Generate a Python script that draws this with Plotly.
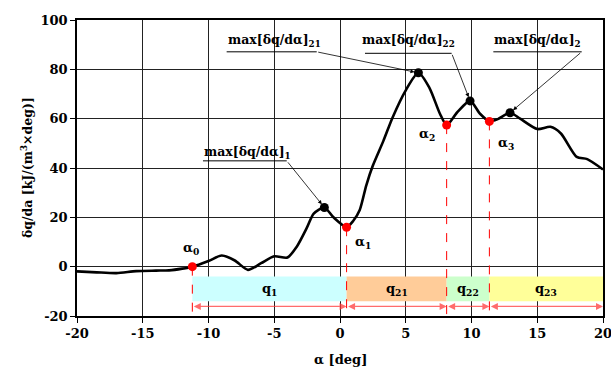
import plotly.graph_objects as go

# Heat release rate curve dq/dα versus crank angle α
alpha = [-20, -18.5, -17, -15.5, -14, -13, -12, -11.23, -10, -9, -8, -7, -6, -5, -4,
         -3.3, -2.5, -2, -1.19, -0.5, 0.5, 1.0, 1.5, 2.0, 2.5, 3.3, 4.0, 5.0, 5.96,
         6.8, 7.6, 8.11, 8.9, 9.89, 10.65, 11.36, 12.0, 12.93, 13.7, 15.0, 16.0,
         16.8, 18.0, 18.8, 20]
dq = [-1.9, -2.3, -2.6, -1.8, -1.6, -1.5, -0.8, 0, 2.3, 4.5, 2.5, -1.3, 1.4, 4.2, 3.7,
      8, 16, 21.5, 24, 20, 16, 18.5, 23, 33, 41, 51, 60.5, 71.5, 78.6,
      72.5, 62, 57.4, 62.5, 67.2, 62, 58.9, 59.8, 62.4, 60, 55.8, 56.7,
      54, 44.5, 43.6, 39.4]

# Characteristic angles α0..α3 (local minima / start of combustion)
alpha_pts = [-11.23, 0.5, 8.11, 11.36]
alpha_vals = [0, 16, 57.4, 58.9]
alpha_names = ["α<sub>0</sub>", "α<sub>1</sub>", "α<sub>2</sub>", "α<sub>3</sub>"]

# Local maxima
max_pts = [-1.19, 5.96, 9.89, 12.93]
max_vals = [24, 78.6, 67.2, 62.4]
max_names = ["max[δq/dα]<sub>1</sub>", "max[δq/dα]<sub>21</sub>",
             "max[δq/dα]<sub>22</sub>", "max[δq/dα]<sub>2</sub>"]

# Combustion phases
phase_names = ["q<sub>1</sub>", "q<sub>21</sub>", "q<sub>22</sub>", "q<sub>23</sub>"]
phase_colors = ["#CCFFFF", "#FFCC99", "#CCFFCC", "#FFFF99"]
x_end = 20

# Axis ticks
x_ticks = [-20, -15, -10, -5, 0, 5, 10, 15, 20]
x_tick_text = ["-20", "-15", "-10", "-5", "0", "5", "10", "15", "20"]
y_ticks = [-20, 0, 20, 40, 60, 80, 100]
y_tick_text = ["-20", "0", "20", "40", "60", "80", "100"]

FONT = "DejaVu Serif"


def bold(s):
    return "<b>" + s + "</b>"


fig = go.Figure()

fig.add_trace(go.Scatter(
    x=alpha, y=dq, mode="lines",
    line=dict(color="black", width=2.6, shape="spline", smoothing=0.7),
    hoverinfo="skip", showlegend=False))

fig.add_trace(go.Scatter(
    x=max_pts, y=max_vals, mode="markers",
    marker=dict(color="black", size=9), showlegend=False))

fig.add_trace(go.Scatter(
    x=alpha_pts, y=alpha_vals, mode="markers",
    marker=dict(color="#FF0000", size=9), showlegend=False))

shapes = []
annotations = []

# Phase bands and labels
bounds = alpha_pts + [x_end]
for i in range(4):
    x0, x1 = bounds[i], bounds[i + 1]
    shapes.append(dict(type="rect", xref="x", yref="y", x0=x0, x1=x1, y0=-14, y1=-4,
                       fillcolor=phase_colors[i], line=dict(width=0), layer="above"))
    annotations.append(dict(x=(x0 + x1) / 2, y=-9.3, xref="x", yref="y",
                            text=bold(phase_names[i]), showarrow=False,
                            font=dict(family=FONT, size=13, color="black")))
    # double-headed span arrow
    annotations.append(dict(x=x1, y=-16.1, ax=x0, ay=-16.1, xref="x", yref="y",
                            axref="x", ayref="y", text="", showarrow=True,
                            arrowside="end+start", arrowhead=2, arrowsize=1,
                            arrowwidth=1.4, arrowcolor="rgba(255,60,60,0.75)"))

# Dashed markers from each α point down to the axis
for xa, ya in zip(alpha_pts, alpha_vals):
    shapes.append(dict(type="line", xref="x", yref="y", x0=xa, x1=xa, y0=ya, y1=-20,
                       line=dict(color="#FF0000", width=1, dash="dash"), layer="above"))

# α labels
alpha_label_pos = [(-11.35, 7.5), (1.75, 10.0), (6.6, 53.5), (12.6, 50.0)]
for name, (lx, ly) in zip(alpha_names, alpha_label_pos):
    annotations.append(dict(x=lx, y=ly, xref="x", yref="y", text=bold(name), showarrow=False,
                            font=dict(family=FONT, size=13, color="black")))

# Maximum labels: text, underline and leader arrow
label_text_pos = [(-7.05, 46.4), (-5.0, 91.6), (5.2, 91.6), (15.0, 91.6)]
underline = [(-10.42, -4.05, 42.9), (-8.62, -1.77, 87.1), (1.9, 8.49, 86.5), (11.66, 18.38, 87.1)]
leader_start = [(-4.05, 42.9), (-1.77, 87.1), (8.49, 86.5), (18.38, 87.1)]
for name, (tx, ty), (u0, u1, uy), (sx, sy), mx, my in zip(
        max_names, label_text_pos, underline, leader_start, max_pts, max_vals):
    annotations.append(dict(x=tx, y=ty, xref="x", yref="y", text=bold(name), showarrow=False,
                            font=dict(family=FONT, size=12.5, color="black")))
    shapes.append(dict(type="line", xref="x", yref="y", x0=u0, x1=u1, y0=uy, y1=uy,
                       line=dict(color="black", width=1), layer="above"))
    annotations.append(dict(x=mx, y=my, ax=sx, ay=sy, xref="x", yref="y",
                            axref="x", ayref="y", text="", showarrow=True,
                            arrowhead=2, arrowsize=1, arrowwidth=0.8,
                            arrowcolor="black", standoff=4))

# Axis titles
annotations.append(dict(x=0.5, y=-0.18, xref="paper", yref="paper", text=bold("α [deg]"),
                        showarrow=False, font=dict(family=FONT, size=13, color="black")))
annotations.append(dict(x=-0.114, y=0.5, xref="paper", yref="paper", textangle=-90,
                        text=bold("δq/da [kJ/(m<sup>3</sup>×deg)]"),
                        showarrow=False, font=dict(family=FONT, size=12.5, color="black")))

fig.update_layout(
    width=611, height=377,
    margin=dict(l=77, r=8, t=20, b=61),
    paper_bgcolor="white", plot_bgcolor="white",
    font=dict(family=FONT, size=13, color="black"),
    shapes=shapes, annotations=annotations,
    showlegend=False,
)

fig.update_xaxes(
    range=[-20, 20], tickmode="array", tickvals=x_ticks, ticktext=x_tick_text,
    showgrid=True, gridcolor="#222", gridwidth=1, automargin=False,
    ticklabeloverflow="allow",
    zeroline=False, showline=True, linecolor="black", linewidth=1.5, mirror=True,
    ticks="outside", ticklen=5, tickcolor="black",
    tickfont=dict(family=FONT, size=13, weight="bold"),
)
fig.update_yaxes(
    range=[-20, 100], tickmode="array", tickvals=y_ticks, ticktext=y_tick_text,
    showgrid=True, gridcolor="#222", gridwidth=1, automargin=False,
    ticklabeloverflow="allow",
    zeroline=False, showline=True, linecolor="black", linewidth=1.5, mirror=True,
    ticks="outside", ticklen=5, tickcolor="black",
    tickfont=dict(family=FONT, size=13, weight="bold"),
)

fig.write_html("out.html")
